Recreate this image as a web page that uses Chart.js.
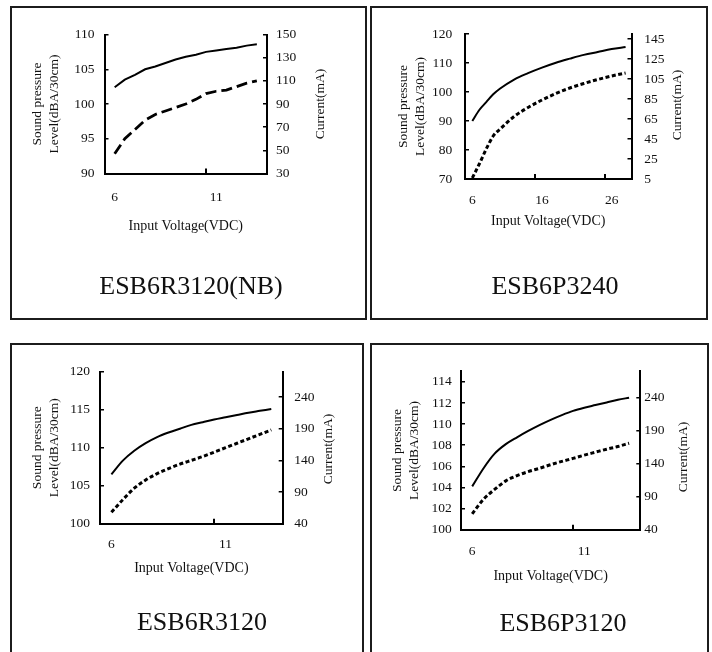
<!DOCTYPE html>
<html>
<head>
<meta charset="utf-8">
<script src="https://cdn.jsdelivr.net/npm/chart.js@4.4.0/dist/chart.umd.min.js"></script>
<style>
body { margin: 0; background: #fff; }
#page { position: relative; width: 712px; height: 652px; overflow: hidden; background: #fff;
        font-family: "Liberation Serif", "Times New Roman", serif; color: #111; }
.panel { position: absolute; box-sizing: border-box; border: 2px solid #1c1c1c; }
canvas { position: absolute; }
.name { position: absolute; width: 400px; text-align: center; line-height: 1; white-space: nowrap; }
.rt { position: absolute; font-size: 13.5px; line-height: 1; white-space: nowrap;
      transform: translate(-50%, -50%) rotate(-90deg); }
</style>
</head>
<body>
<div id="page">
  <div class="panel" style="left:10px;top:6px;width:357px;height:314px"></div>
  <div class="panel" style="left:370px;top:6px;width:338px;height:314px"></div>
  <div class="panel" style="left:10px;top:343px;width:354px;height:330px"></div>
  <div class="panel" style="left:370px;top:343px;width:339px;height:330px"></div>

  <canvas id="c1" width="353" height="301" style="left:12px;top:8px"></canvas>
  <canvas id="c2" width="334" height="301" style="left:372px;top:8px"></canvas>
  <canvas id="c3" width="350" height="301" style="left:12px;top:345px"></canvas>
  <canvas id="c4" width="335" height="301" style="left:372px;top:345px"></canvas>

  <div class="rt" style="left:320px;top:104px">Current(mA)</div>
  <div class="rt" style="left:677px;top:105px">Current(mA)</div>
  <div class="rt" style="left:328px;top:449px">Current(mA)</div>
  <div class="rt" style="left:683px;top:457px">Current(mA)</div>

  <div class="name" style="left:-9px;top:273px;font-size:26px">ESB6R3120(NB)</div>
  <div class="name" style="left:355px;top:273px;font-size:26px">ESB6P3240</div>
  <div class="name" style="left:2px;top:609px;font-size:26px">ESB6R3120</div>
  <div class="name" style="left:363px;top:610px;font-size:26px">ESB6P3120</div>
</div>
<script>
// input voltage (VDC)
const volts = [6, 6.5, 7, 7.5, 8, 8.5, 9, 9.5, 10, 10.5, 11, 11.5, 12, 12.5, 13];
const volts24 = [6, 7, 8, 9, 10, 12, 14, 16, 18, 20, 22, 24, 26, 28];

// ESB6R3120(NB)
const splNB = [102.4, 103.5, 104.2, 105.0, 105.4, 105.9, 106.4, 106.8, 107.1, 107.5, 107.7, 107.9, 108.1, 108.4, 108.6];
const curNB = [47, 60, 68, 76, 81, 84, 87, 90, 94, 99, 101, 102, 105, 108, 110];

// ESB6P3240
const spl3240 = [90, 93.8, 96.5, 99.2, 101.2, 104.3, 106.5, 108.4, 110.1, 111.5, 112.8, 113.8, 114.8, 115.5];
const cur3240 = [6, 20, 35, 48, 55, 67.5, 76.5, 84, 90.5, 96, 100.5, 104.5, 108, 111];

// ESB6R3120
const splR = [106.5, 108.3, 109.6, 110.6, 111.4, 112.0, 112.5, 113.0, 113.35, 113.7, 114.0, 114.3, 114.6, 114.85, 115.1];
const curR = [58, 78, 96, 109, 119, 127, 134, 140, 146, 153, 160, 167, 174, 181, 188];

// ESB6P3120
const splP = [104.1, 105.8, 107.2, 108.1, 108.75, 109.35, 109.9, 110.4, 110.85, 111.25, 111.55, 111.8, 112.05, 112.3, 112.5];
const curP = [64, 86, 101, 114, 122, 128, 133, 138.5, 143.5, 148, 153, 157.5, 162, 166, 171];

// tick labels
const xLabels12 = [6, 11];
const xLabels24 = [6, 16, 26];
const yTicksNB = [90, 95, 100, 105, 110];
const cTicksNB = [30, 50, 70, 90, 110, 130, 150];
const yTicks3240 = [70, 80, 90, 100, 110, 120];
const cTicks3240 = [5, 25, 45, 65, 85, 105, 125, 145];
const yTicksR = [100, 105, 110, 115, 120];
const cTicksR = [40, 90, 140, 190, 240];
const yTicksP = [100, 102, 104, 106, 108, 110, 112, 114];
const cTicksP = [40, 90, 140, 190, 240];

const serif = 'Liberation Serif';

function pts(xs, ys) {
    return xs.map((x, i) => ({x: x, y: ys[i]}));
}

function drawPanel(id, o) {
    const tickFont = {family: serif, size: 13.5};
    const xTicks = o.xLabels.concat(o.xMarks).sort((a, b) => a - b);
    const config = {
        type: 'line',
        data: {
            datasets: [{
                label: 'Sound pressure',
                data: pts(o.volts, o.spl),
                yAxisID: 'y',
                borderColor: '#000',
                borderWidth: 2,
                pointRadius: 0,
                tension: o.tension,
                cubicInterpolationMode: o.mode
            }, {
                label: 'Current',
                data: pts(o.volts, o.cur),
                yAxisID: 'y1',
                borderColor: '#000',
                borderWidth: o.dashWidth,
                borderDash: o.dash,
                pointRadius: 0,
                tension: o.tension,
                cubicInterpolationMode: o.mode
            }]
        },
        options: {
            responsive: false,
            animation: false,
            layout: {padding: {top: o.top, left: 0, right: 0, bottom: 0}},
            plugins: {
                legend: {display: false},
                tooltip: {enabled: false}
            },
            scales: {
                x: {
                    type: 'linear',
                    min: o.xMin,
                    max: o.xMax,
                    afterBuildTicks: s => { s.ticks = xTicks.map(v => ({value: v})); },
                    afterFit: s => { s.height = o.xh; },
                    border: {color: '#000', width: 2},
                    grid: {
                        drawOnChartArea: false,
                        tickLength: -5,
                        lineWidth: 2,
                        tickColor: c => (c.tick && o.xMarks.includes(c.tick.value)) ? '#000' : 'rgba(0,0,0,0)'
                    },
                    ticks: {
                        font: tickFont,
                        color: '#111',
                        padding: o.xPad,
                        maxRotation: 0,
                        autoSkip: false,
                        callback: v => o.xLabels.includes(v) ? String(v) : ''
                    },
                    title: {
                        display: true,
                        text: 'Input Voltage(VDC)',
                        color: '#111',
                        font: {family: serif, size: 14},
                        padding: {top: 0, bottom: o.xTitlePad}
                    }
                },
                y: {
                    position: 'left',
                    min: o.yMin,
                    max: o.yMax,
                    afterBuildTicks: s => { s.ticks = o.yTicks.map(v => ({value: v})); },
                    afterFit: s => { s.width = o.yw; },
                    border: {color: '#000', width: 2},
                    grid: {drawOnChartArea: false, tickLength: -4, lineWidth: 1.5, color: '#000'},
                    ticks: {font: tickFont, color: '#111', padding: o.yPad},
                    title: {
                        display: true,
                        text: ['Sound pressure', 'Level(dBA/30cm)'],
                        color: '#111',
                        font: {family: serif, size: 13.5, lineHeight: 1.28},
                        padding: {top: o.yTitlePad, bottom: 0}
                    }
                },
                y1: {
                    position: 'right',
                    min: o.cMin,
                    max: o.cMax,
                    afterBuildTicks: s => { s.ticks = o.cTicks.map(v => ({value: v})); },
                    afterFit: s => { s.width = o.cw; },
                    border: {color: '#000', width: 2},
                    grid: {drawOnChartArea: false, tickLength: -4, lineWidth: 1.5, color: '#000'},
                    ticks: {font: tickFont, color: '#111', padding: o.cPad}
                }
            }
        }
    };

    const myChart = new Chart(document.getElementById(id), config);
}

drawPanel('c1', {
    volts: volts, spl: splNB, cur: curNB, tension: 0, mode: 'default',
    dash: [11, 5], dashWidth: 2.8,
    xMin: 5.5, xMax: 13.5, xLabels: xLabels12, xMarks: [10.5],
    yMin: 90, yMax: 110, yTicks: yTicksNB,
    cMin: 30, cMax: 150, cTicks: cTicksNB,
    top: 26.5, yw: 92.5, cw: 98, xh: 135.5,
    yTitlePad: 17, xTitlePad: 73.9, xPad: 21, yPad: 14, cPad: 13
});

drawPanel('c2', {
    volts: volts24, spl: spl3240, cur: cur3240, tension: 0.4, mode: 'monotone',
    dash: [4, 2.5], dashWidth: 3,
    xMin: 4.95, xMax: 28.85, xLabels: xLabels24, xMarks: [15, 25],
    yMin: 70, yMax: 120, yTicks: yTicks3240,
    cMin: 5, cMax: 150, cTicks: cTicks3240,
    top: 26, yw: 93, cw: 74.5, xh: 130,
    yTitlePad: 22.7, xTitlePad: 78.9, xPad: 18.2, yPad: 16.7, cPad: 16.8
});

drawPanel('c3', {
    volts: volts, spl: splR, cur: curR, tension: 0.4, mode: 'monotone',
    dash: [4, 2.5], dashWidth: 3,
    xMin: 5.5, xMax: 13.5, xLabels: xLabels12, xMarks: [10.5],
    yMin: 100, yMax: 120, yTicks: yTicksR,
    cMin: 40, cMax: 280, cTicks: cTicksR,
    top: 26.7, yw: 88, cw: 79.3, xh: 122.3,
    yTitlePad: 17, xTitlePad: 69.6, xPad: 17.2, yPad: 14, cPad: 15.6
});

drawPanel('c4', {
    volts: volts, spl: splP, cur: curP, tension: 0.4, mode: 'monotone',
    dash: [4, 2.5], dashWidth: 3,
    xMin: 5.5, xMax: 13.5, xLabels: xLabels12, xMarks: [10.5],
    yMin: 100, yMax: 115, yTicks: yTicksP,
    cMin: 40, cMax: 280, cTicks: cTicksP,
    top: 26.3, yw: 89, cw: 66.7, xh: 116.3,
    yTitlePad: 17, xTitlePad: 61.3, xPad: 18.2, yPad: 13.3, cPad: 8
});
</script>
</body>
</html>
